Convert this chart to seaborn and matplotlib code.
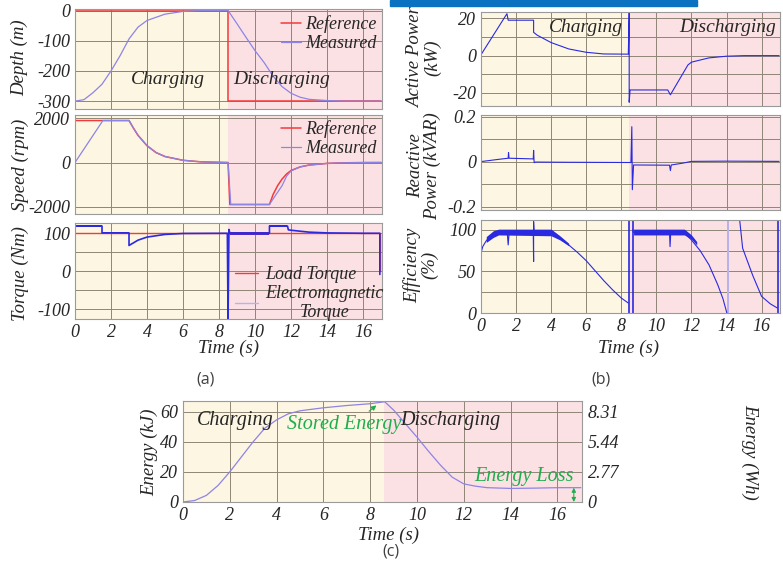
import numpy as np
import matplotlib
matplotlib.use("Agg")
import matplotlib.pyplot as plt
import seaborn as sns

# ---- data ----
time_ticks = [0, 2, 4, 6, 8, 10, 12, 14, 16]

depth_ref_t = [0, 8.5, 8.5, 17]
depth_ref = [0, 0, -300, -300]
depth_meas_t = [0, 0.5, 1, 1.5, 2, 2.5, 3, 3.5, 4, 5, 6, 7, 8.5, 9, 9.5, 10,
                10.5, 11, 11.5, 12, 12.5, 13, 14, 15, 17]
depth_meas = [-300, -295, -272, -244, -200, -150, -94, -55, -33, -12, -3, 0, 0,
              -44, -89, -133, -172, -217, -252, -274, -287, -294, -298, -300, -300]

speed_ref_t = [0, 3.0, 3.25, 3.5, 4, 4.5, 5, 6, 7, 8, 8.5, 8.6, 10.8, 11.0,
               11.25, 11.5, 11.75, 12, 12.5, 13, 14, 15, 16, 17]
speed_ref = [1900, 1900, 1550, 1230, 760, 450, 270, 100, 30, 8, 0, -1900, -1900,
             -1450, -1050, -750, -520, -360, -200, -115, -40, -12, -3, 0]
speed_meas_t = [0, 1.55, 3.0, 3.25, 3.5, 4, 4.5, 5, 6, 7, 8, 8.5, 8.65, 10.8,
                11.0, 11.5, 11.75, 12, 12.5, 13, 14, 15, 16, 17]
speed_meas = [0, 1900, 1900, 1550, 1230, 760, 450, 270, 100, 30, 8, 0, -1900,
              -1900, -1650, -1050, -620, -380, -200, -115, -40, -12, -3, 0]

load_t = [0, 16.93, 16.93]
load_torque = [100, 100, 0]
em_t = [0, 0, 1.5, 1.5, 3.0, 3.0, 3.5, 4, 5, 6, 8.46, 8.5, 8.55, 8.6, 10.8,
        10.8, 11.8, 11.85, 12, 13, 14, 16, 16.93, 16.93]
em_torque = [0, 119, 119, 101, 101, 68, 82, 90, 97, 99.5, 100, -125, 110, 100,
             100, 119, 119, 109, 108, 103, 101, 100, 100, -8]
em_band_t0 = [0.0, 1.5, 8.6, 10.8]
em_band_t1 = [1.5, 3.0, 10.8, 11.8]
em_band_lo = [116, 97, 96, 116]
em_band_hi = [123, 104, 104, 123]

ap_t = [0, 1.48, 1.55, 3.0, 3.0, 3.2, 3.5, 4, 5, 6, 7, 8.4, 8.45, 8.45, 8.5,
        10.65, 10.8, 11.8, 12, 13, 14, 15, 17]
active_kw = [0.5, 22.5, 19, 19, 12.5, 11, 9.5, 7, 3.6, 1.8, 0.9, 0.8, 23, -25,
             -18.4, -18.4, -21, -5, -3.5, -1.2, -0.3, 0, 0]

rp_t = [0, 1.0, 1.55, 1.57, 1.6, 2.5, 2.98, 3.0, 3.03, 3.1, 5, 8.55, 8.6, 8.63,
        8.7, 10.75, 10.8, 10.85, 11.5, 12, 14, 17]
reactive_kvar = [0, 0.01, 0.015, 0.04, 0.015, 0.013, 0.012, 0.05, -0.005,
                 -0.002, -0.003, -0.004, 0.155, -0.125, -0.015, -0.016, -0.04,
                 -0.015, -0.007, 0.001, 0.002, 0.001]

eff_a_t = [0, 0, 0.1, 0.3, 0.5, 1.0, 1.5, 1.55, 1.6, 2.0, 2.98, 3.0, 3.0, 3.03,
           3.5, 4.0, 4.5, 5.0, 5.5, 6.0, 6.5, 7.0, 7.5, 8.0, 8.4]
eff_a = [0, 72, 80, 87, 92, 95, 96, 82, 96, 97, 97, 62, 110, 97, 97, 95, 90,
         82, 73, 63, 51, 39, 28, 18, 12]
eff_b_t = [8.64, 8.7, 9.5, 10.75, 10.78, 10.82, 11.0, 11.6, 12.0, 12.5, 13.0,
           13.5, 13.8, 14.02]
eff_b = [100, 97, 97, 97, 80, 97, 97, 96, 88, 75, 58, 34, 17, 0]
eff_c_t = [14.75, 14.92, 15.5, 16.0, 16.5, 16.9]
eff_c = [112, 78, 45, 20, 11, 6]
eff_band_a_t = [0.3, 0.7, 1.0, 4.0, 4.5, 5.0]
eff_band_a_lo = [85, 91, 94, 93, 88, 81]
eff_band_a_hi = [92, 99, 101, 101, 93, 84]
eff_band_b_t = [8.7, 11.6, 12.0, 12.3]
eff_band_b_lo = [94, 94, 89, 82]
eff_band_b_hi = [101, 101, 94, 86]
eff_vline_t = [8.45, 8.64, 16.92]

energy_t = [0, 0.5, 1, 1.5, 2, 2.5, 3, 3.5, 4, 4.5, 5, 6, 7, 8, 8.62, 9, 9.5,
            10, 10.5, 11, 11.5, 12, 12.5, 13, 14, 15, 16, 17]
energy_kj = [0, 1, 4.4, 11, 20, 30, 40, 49, 54.5, 58.5, 60.5, 62.5, 64, 65.2,
             66.5, 61, 52, 43, 33.5, 24.5, 16.5, 12, 10.5, 9.5, 9, 9.2, 9.5, 9.5]
energy_wh_labels = ["0", "2.77", "5.44", "8.31"]

# ---- style ----
YELLOW = "#fdf6e2"
PINK = "#fce1e4"
GRID = "#8f8676"
RED = "#f23a3a"
LAV = "#8e84e4"
BLUE = "#2a2ae0"
GREEN = "#1fae4e"

sns.set_style("white")
plt.rcParams["font.family"] = ["Liberation Serif", "DejaVu Serif"]
plt.rcParams["font.style"] = "italic"
plt.rcParams["axes.unicode_minus"] = False

W, H = 783, 567
fig = plt.figure(figsize=(W / 100, H / 100), dpi=100)


def add_ax(x0, y0, x1, y1):
    return fig.add_axes([x0 / W, 1 - y1 / H, (x1 - x0) / W, (y1 - y0) / H])


def ftext(x, y, s, **kw):
    kw.setdefault("ha", "center")
    kw.setdefault("va", "center")
    fig.text(x / W, 1 - y / H, s, **kw)


def style(ax, tb, ylim, yticks, ylabels, minor=(), xlabels=False):
    xmax = 17.05
    ax.set_xlim(0, xmax)
    ax.set_ylim(*ylim)
    ax.axvspan(0, tb, color=YELLOW, lw=0, zorder=-3)
    ax.axvspan(tb, xmax, color=PINK, lw=0, zorder=-3)
    ax.set_xticks(time_ticks)
    ax.set_yticks(yticks)
    ax.set_yticklabels(ylabels)
    ax.set_yticks(list(minor), minor=True)
    ax.grid(which="both", color=GRID, lw=0.7)
    ax.tick_params(which="both", length=0, labelsize=13, pad=3.5)
    if not xlabels:
        ax.set_xticklabels([])
    for sp in ax.spines.values():
        sp.set_color("#9a9a9a")
        sp.set_linewidth(0.8)


def line(ax, t, v, color, lw=0.9, label=None):
    sns.lineplot(x=t, y=v, ax=ax, estimator=None, sort=False, color=color,
                 lw=lw, label=label, legend=False)


LEG = dict(frameon=False, fontsize=13, handlelength=1.1, handletextpad=0.2,
           labelspacing=0.1, borderaxespad=0.0)

# ---------------- panel (a) ----------------
ax_d = add_ax(75, 9, 382, 109)
style(ax_d, 8.5, (-326, 5), [0, -100, -200, -300], ["0", "-100", "-200", "-300"])
line(ax_d, depth_ref_t, depth_ref, RED, 1.1, "Reference")
line(ax_d, depth_meas_t, depth_meas, LAV, 0.9, "Measured")
ax_d.legend(loc="upper right", bbox_to_anchor=(1.005, 1.01), **LEG)
ftext(168, 80, "Charging", fontsize=14)
ftext(282, 80, "Discharging", fontsize=14)

ax_s = add_ax(75, 115, 382, 214)
style(ax_s, 8.5, (-2330, 2150), [2000, 0, -2000], ["2000", "0", "-2000"])
line(ax_s, speed_ref_t, speed_ref, RED, 1.1, "Reference")
line(ax_s, speed_meas_t, speed_meas, LAV, 0.9, "Measured")
ax_s.legend(loc="upper right", bbox_to_anchor=(1.005, 1.02), **LEG)

ax_t = add_ax(75, 223, 382, 319)
style(ax_t, 8.5, (-125, 127), [100, 0, -100], ["100", "0", "-100"],
      minor=[50, -50], xlabels=True)
for t0, t1, lo, hi in zip(em_band_t0, em_band_t1, em_band_lo, em_band_hi):
    ax_t.fill_between([t0, t1], [lo, lo], [hi, hi], color=BLUE, lw=0, zorder=2)
line(ax_t, load_t, load_torque, RED, 1.0, "Load Torque")
line(ax_t, em_t, em_torque, BLUE, 1.2)
ax_t.plot([], [], color="#b8b0f0", lw=1.0, label="Electromagnetic\nTorque")
leg = ax_t.legend(loc="lower right", bbox_to_anchor=(1.03, -0.1),
                  **dict(LEG, handlelength=1.3, handletextpad=0.4))
for txt in leg.get_texts():
    txt.set_multialignment("center")

ftext(20, 58, "Depth (m)", rotation=90, fontsize=13.5)
ftext(20, 165, "Speed (rpm)", rotation=90, fontsize=13.5)
ftext(20, 274, "Torque (Nm)", rotation=90, fontsize=13.5)
ftext(228, 348, "Time (s)", fontsize=13.5)

# ---------------- panel (b) ----------------
ax_p = add_ax(481, 12, 780, 106)
style(ax_p, 8.45, (-27, 23.4), [20, 0, -20], ["20", "0", "-20"], minor=[10, -10])
line(ax_p, ap_t, active_kw, BLUE, 0.8)
ftext(586, 27, "Charging", fontsize=14)
ftext(728, 27, "Discharging", fontsize=14)

ax_q = add_ax(481, 115, 780, 210)
style(ax_q, 8.45, (-0.215, 0.207), [0.2, 0, -0.2], ["0.2", "0", "-0.2"],
      minor=[0.1, -0.1])
line(ax_q, rp_t, reactive_kvar, BLUE, 0.8)

ax_e = add_ax(481, 220, 780, 313)
style(ax_e, 8.45, (0, 112), [0, 50, 100], ["0", "50", "100"], minor=[25, 75],
      xlabels=True)
ax_e.fill_between(eff_band_a_t, eff_band_a_lo, eff_band_a_hi, color=BLUE, lw=0,
                  zorder=2)
ax_e.fill_between(eff_band_b_t, eff_band_b_lo, eff_band_b_hi, color=BLUE, lw=0,
                  zorder=2)
line(ax_e, eff_a_t, eff_a, BLUE, 0.8)
line(ax_e, eff_b_t, eff_b, BLUE, 0.8)
line(ax_e, eff_c_t, eff_c, BLUE, 0.8)
ax_e.vlines(eff_vline_t, 0, 112, color=BLUE, lw=1.2)
ax_e.axvspan(14.02, 14.15, color="#b9b0ee", lw=0, zorder=1)

ftext(424, 58, "Active Power\n(kW)", rotation=90, fontsize=13.5, linespacing=1.0)
ftext(424, 166, "Reactive\nPower (kVAR)", rotation=90, fontsize=13.5,
      linespacing=1.0)
ftext(421, 265, "Efficiency\n(%)", rotation=90, fontsize=13.5, linespacing=1.0)
ftext(628, 348, "Time (s)", fontsize=13.5)

# ---------------- panel (c) ----------------
ax_c = add_ax(183, 401, 582, 502)
style(ax_c, 8.6, (0, 67), [0, 20, 40, 60], ["0", "20", "40", "60"], xlabels=True)
line(ax_c, energy_t, energy_kj, LAV, 0.9)
ax_w = ax_c.twinx()
ax_w.set_ylim(0, 67)
ax_w.set_yticks([0, 20, 40, 60])
ax_w.set_yticklabels(energy_wh_labels)
ax_w.tick_params(length=0, labelsize=13, pad=4)
for sp in ax_w.spines.values():
    sp.set_visible(False)

ax_c.annotate("", xy=(8.36, 65.2), xytext=(7.86, 59.1),
              arrowprops=dict(arrowstyle="-|>", color=GREEN, lw=0.8,
                              mutation_scale=7))
ax_c.annotate("", xy=(16.7, 0), xytext=(16.7, 9.5),
              arrowprops=dict(arrowstyle="<|-|>", color=GREEN, lw=0.8,
                              mutation_scale=6, shrinkA=0, shrinkB=0))
ftext(235, 420, "Charging", fontsize=14.5)
ftext(450, 421, "Discharging", fontsize=14.5)
ftext(344, 424, "Stored Energy", fontsize=14.5, color=GREEN)
ftext(524, 477, "Energy Loss", fontsize=14.5, color=GREEN)
ftext(150, 452, "Energy (kJ)", rotation=90, fontsize=13.5)
ftext(750, 452, "Energy (Wh)", rotation=270, fontsize=13.5)
ftext(389, 535, "Time (s)", fontsize=13.5)

# sub-figure tags and the blue header bar
ftext(206, 380, "(a)", fontsize=11.5, family="Open Sans", style="normal",
      color="#404040")
ftext(601, 380, "(b)", fontsize=11.5, family="Open Sans", style="normal",
      color="#404040")
ftext(391, 552, "(c)", fontsize=11.5, family="Open Sans", style="normal",
      color="#404040")
fig.patches.append(plt.Rectangle((390 / W, 1 - 6 / H), 307 / W, 6 / H,
                                 transform=fig.transFigure, color="#0a72c0",
                                 zorder=5))

fig.savefig("out.png", dpi=100)
